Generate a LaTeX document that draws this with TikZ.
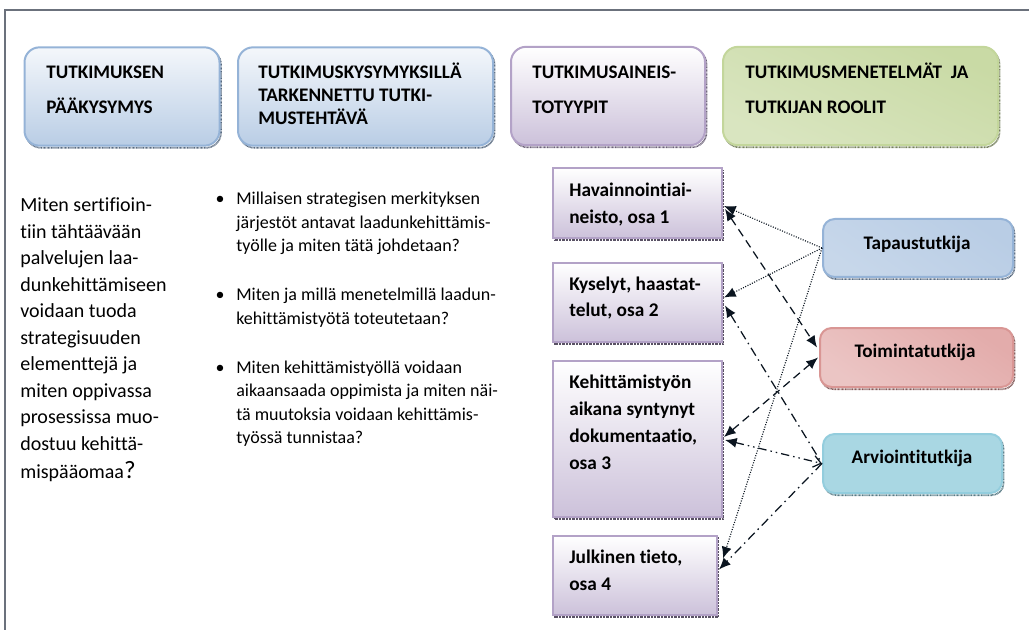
\documentclass[tikz,border=0pt]{standalone}
\usepackage{fontspec}
\setmainfont{Carlito}[RawFeature={-liga,-clig,-dlig}]
\usetikzlibrary{arrows.meta,calc,shadows}

% palette
\definecolor{framecol}{HTML}{6B717C}
\definecolor{blueedge}{HTML}{95B3D7}
\definecolor{bluefill}{HTML}{B9CDE5}
\definecolor{bluelite}{HTML}{F4F7FB}
\definecolor{purpedge}{HTML}{B3A2C7}
\definecolor{purpfill}{HTML}{CCC1DA}
\definecolor{greenedge}{HTML}{C3D69B}
\definecolor{greenfill}{HTML}{C9DAA5}
\definecolor{greenlite}{HTML}{EEF3E2}
\definecolor{rededge}{HTML}{D99694}
\definecolor{redfill}{HTML}{E3ACAB}
\definecolor{redlite}{HTML}{F5E3E3}
\definecolor{tealedge}{HTML}{93CDDD}
\definecolor{tealfill}{HTML}{A9D7E3}
\definecolor{teallite}{HTML}{E4F2F6}
\definecolor{linecol}{HTML}{0B1520}

% multi-line text whose baseline is the first line
\newcommand\txtlines[1]{\begin{tabular}[t]{@{}l@{}}#1\end{tabular}}

% arrow heads
\tikzset{
  fulltip/.tip={Latex[length=7pt,width=6pt]},
  opentip/.tip={Straight Barb[length=4.5pt,width=7pt,line width=0.75pt]}
}

\begin{document}
\begin{tikzpicture}[x=0.6pt,y=-0.6pt,
  boxshadow/.style={general shadow={shadow xshift=0.9pt,shadow yshift=-1.3pt,
      draw=#1,line width=1pt,dash pattern=on 0.5pt off 0.35pt}},
  headbox/.style={rounded corners=9pt,line width=1.2pt,inner sep=0pt},
  hblue/.style={headbox,draw=blueedge,top color=bluelite,bottom color=bluefill,
      boxshadow=blueedge!60!black},
  hpurp/.style={headbox,draw=purpedge,top color=white,bottom color=purpfill,
      boxshadow=purpedge!60!black},
  hgreen/.style={headbox,draw=greenedge,top color=greenfill,middle color=greenlite,
      bottom color=greenfill!70!white,shading angle=-25,boxshadow=greenedge!60!black},
  databox/.style={draw=purpedge,line width=1.2pt,top color=white,bottom color=purpfill,
      inner sep=0pt,boxshadow=purpedge!50!black},
  rolebox/.style={rounded corners=7pt,line width=1.2pt,inner sep=0pt},
  rblue/.style={rolebox,draw=blueedge,top color=bluefill,middle color=bluelite,
      bottom color=bluefill!80!white,shading angle=-35,boxshadow=blueedge!60!black},
  rred/.style={rolebox,draw=rededge,top color=redfill,middle color=redlite,
      bottom color=redfill!70!white,shading angle=-35,boxshadow=rededge!60!black},
  rteal/.style={rolebox,draw=tealedge,top color=tealfill,middle color=teallite,
      bottom color=tealfill,shading angle=-35,boxshadow=tealedge!60!black},
  headtxt/.style={anchor=base west,inner sep=0pt,font=\fontsize{11.5}{21}\selectfont\bfseries},
  headtxtb/.style={anchor=base west,inner sep=0pt,font=\fontsize{11.5}{13.6}\selectfont\bfseries},
  datatxt/.style={anchor=base west,inner sep=0pt,font=\fontsize{11.6}{16.2}\selectfont\bfseries},
  roletxt/.style={anchor=base,inner sep=0pt,font=\fontsize{11.5}{14}\selectfont\bfseries},
  maintxt/.style={anchor=base west,inner sep=0pt,font=\fontsize{12}{15.9}\selectfont},
  itemtxt/.style={anchor=base west,inner sep=0pt,font=\fontsize{10.8}{14.1}\selectfont},
  conn/.style={draw=linecol,line width=0.75pt},
  dots/.style={conn,line width=0.7pt,dash pattern=on 0.6pt off 0.9pt},
  dashes/.style={conn,dash pattern=on 5pt off 3pt},
  dashdot/.style={conn,dash pattern=on 5.5pt off 2.6pt on 0.9pt off 2.6pt},
  dashdotdot/.style={conn,dash pattern=on 5pt off 2.4pt on 0.9pt off 2.4pt on 0.9pt off 2.4pt}
]
\useasboundingbox (0,0) rectangle (1029,630);

% page frame
\draw[framecol,line width=1.2pt] (5,630) -- (5,10) -- (1029,10);

% column headers
\node[hblue,minimum width=117pt,minimum height=59pt] (h1) at (122,96.5) {};
\node[hblue,minimum width=153pt,minimum height=59pt] (h2) at (365.5,96.5) {};
\node[hpurp,minimum width=116.4pt,minimum height=59pt] (h3) at (608,96) {};
\node[hgreen,minimum width=165pt,minimum height=59pt] (h4) at (860.5,96) {};

\node[headtxt] (h1t) at (46,79) {\txtlines{TUTKIMUKSEN\\PÄÄKYSYMYS}};
\node[headtxtb] (h2t) at (258,79) {\txtlines{TUTKIMUSKYSYMYKSILLÄ\\TARKENNETTU TUTKI-\\MUSTEHTÄVÄ}};
\node[headtxt] (h3t) at (532,79) {\txtlines{TUTKIMUSAINEIS-\\TOTYYPIT}};
\node[headtxt] (h4t) at (745,79) {\txtlines{TUTKIMUSMENETELMÄT\ \ JA\\TUTKIJAN ROOLIT}};

% main research question
\node[maintxt] (mainq) at (20,212) {\txtlines{Miten sertifioin-\\tiin tähtäävään\\palvelujen laa-\\dunkehittämiseen\\voidaan tuoda\\strategisuuden\\elementtejä ja\\miten oppivassa\\prosessissa muo-\\dostuu kehittä-\\[1pt]mispääomaa{\fontsize{15}{16}\selectfont ?}}};

% sub-questions
\node[itemtxt] (q1) at (236,205) {\txtlines{\llap{•\hspace{7pt}}Millaisen strategisen merkityksen\\järjestöt antavat laadunkehittämis-\\työlle ja miten tätä johdetaan?}};
\node[itemtxt] (q2) at (236,301) {\txtlines{\llap{•\hspace{7pt}}Miten ja millä menetelmillä laadun-\\kehittämistyötä toteutetaan?}};
\node[itemtxt] (q3) at (236,373) {\txtlines{\llap{•\hspace{7pt}}Miten kehittämistyöllä voidaan\\aikaansaada oppimista ja miten näi-\\tä muutoksia voidaan kehittämis-\\työssä tunnistaa?}};

% data types
\node[databox,minimum width=101.4pt,minimum height=42pt] (hav) at (637.5,203) {};
\node[databox,minimum width=101.4pt,minimum height=47.4pt] (kys) at (637.5,302.5) {};
\node[databox,minimum width=101.4pt,minimum height=93.6pt] (keh) at (637.5,439) {};
\node[databox,minimum width=98.4pt,minimum height=47.4pt] (julk) at (635,575.5) {};

\node[datatxt] (havt) at (569,197) {\txtlines{Havainnointiai-\\neisto, osa 1}};
\node[datatxt] (kyst) at (569,290) {\txtlines{Kyselyt, haastat-\\telut, osa 2}};
\node[datatxt] (keht) at (569,388) {\txtlines{Kehittämistyön\\aikana syntynyt\\dokumentaatio,\\osa 3}};
\node[datatxt] (julkt) at (569,563) {\txtlines{Julkinen tieto,\\osa 4}};

% researcher roles
\node[rblue,minimum width=114pt,minimum height=34.8pt] (tap) at (918,248) {};
\node[rred,minimum width=115.8pt,minimum height=35.4pt] (toim) at (916.5,357.5) {};
\node[rteal,minimum width=107.4pt,minimum height=35.4pt] (arv) at (912.5,463.5) {};

\node[roletxt] (tapt) at (917,250) {Tapaustutkija};
\node[roletxt] (toimt) at (915,357) {Toimintatutkija};
\node[roletxt] (arvt) at (912,463) {Arviointitutkija};

% case researcher: dotted links
\draw[dots,-{fulltip}] (tap.west) -- ($(hav.east)+(1,3)$);
\draw[dots,-{fulltip}] (tap.west) -- ($(kys.east)+(1,-5)$);
\draw[dots,-{fulltip}] (tap.west) -- ($(julk.east)+(5,-17)$);

% action researcher: dashed links
\draw[dashes,{fulltip}-{fulltip}] ($(hav.east)+(2,6)$) -- ($(toim.west)+(-2,-10)$);
\draw[dashes,{fulltip}-{fulltip}] ($(keh.east)+(1,-2)$) -- ($(toim.west)+(-1,0)$);

% evaluation researcher: dash-dot links
\draw[dashdot,{fulltip}-] ($(kys.east)+(2,3)$) -- (arv.west);
\draw[dashdotdot,{fulltip}-{opentip}] ($(keh.east)+(2,1)$) -- (arv.west);
\draw[dashdot,-{fulltip}] (arv.west) -- ($(julk.east)+(1,-6)$);
\end{tikzpicture}
\end{document}
